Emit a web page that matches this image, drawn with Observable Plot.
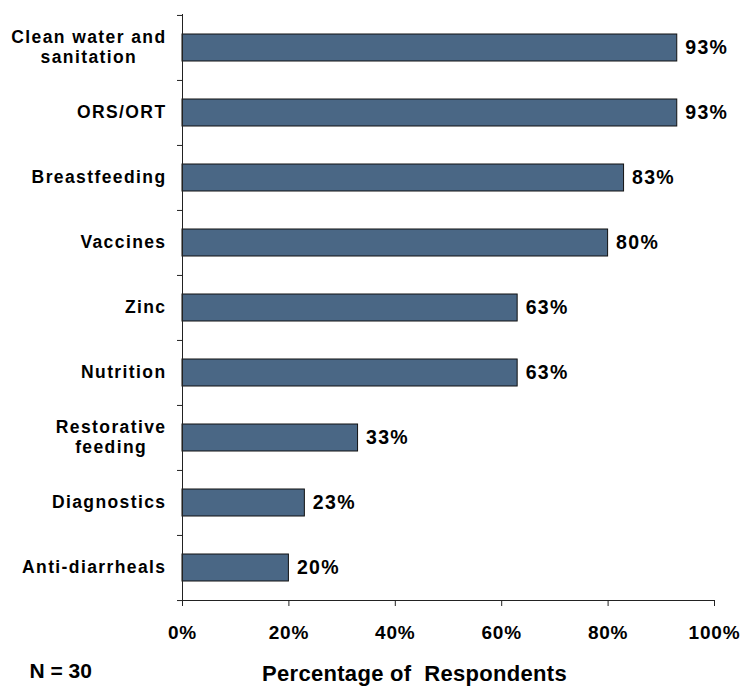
<!DOCTYPE html>
<html>
<head>
<meta charset="utf-8">
<script src="https://cdn.jsdelivr.net/npm/d3@7"></script>
<script src="https://cdn.jsdelivr.net/npm/@observablehq/plot@0.6"></script>
<style>
  body { margin: 0; background: #fff; }
  #chart svg text { font-family: "Liberation Sans", Arial, sans-serif; font-weight: bold; fill: #000; }
  #chart g[aria-label="y-axis tick label"] text { letter-spacing: 1.4px; }
  #chart g[aria-label="x-axis tick label"] text { letter-spacing: 0.8px; }
  #chart g.value-labels text { letter-spacing: 1.3px; }
  #chart g.x-title text { letter-spacing: 0.3px; }
</style>
</head>
<body>
<div id="chart"></div>
<script>
// Interventions named by respondents, top to bottom
const categories = [
  "Clean water and sanitation",
  "ORS/ORT",
  "Breastfeeding",
  "Vaccines",
  "Zinc",
  "Nutrition",
  "Restorative feeding",
  "Diagnostics",
  "Anti-diarrheals"
];
// Share of respondents (%)
const values = [93, 93, 83, 80, 63, 63, 33, 23, 20];
const xTicks = [0, 20, 40, 60, 80, 100];
// Two-line versions of the long category names
const wrapped = {
  "Clean water and sanitation": "Clean water and\nsanitation",
  "Restorative feeding": "Restorative\nfeeding"
};
const sampleNote = "N = 30";
const xTitle = "Percentage of\u00a0 Respondents";

const data = categories.map((category, i) => ({category, value: values[i]}));

const W = 745, H = 686;
const mt = 14, mb = 86, ml = 182, mr = 31;
const step = (H - mt - mb) / categories.length;

const chart = Plot.plot({
  width: W,
  height: H,
  marginTop: mt,
  marginBottom: mb,
  marginLeft: ml,
  marginRight: mr,
  style: {background: "#fff", overflow: "visible"},
  x: {domain: [0, 100]},
  y: {domain: categories, paddingInner: 0.585, paddingOuter: 0.2925},
  marks: [
    Plot.barX(data, {x: "value", y: "category", fill: "#4a6785", stroke: "#111", strokeWidth: 1}),
    Plot.text(data, {x: "value", y: "category", text: d => d.value + "%", textAnchor: "start", dx: 8, fontSize: 19.5, className: "value-labels"}),
    Plot.frame({anchor: "left", stroke: "#222"}),
    Plot.frame({anchor: "bottom", stroke: "#222"}),
    Plot.axisX({ticks: xTicks, tickFormat: d => d + "%", tickSize: 6, tickPadding: 19, fontSize: 19, label: null, stroke: "#222"}),
    // category names
    Plot.axisY({tickSize: 0, tickPadding: 16, tickFormat: c => wrapped[c] ?? c, fontSize: 17.5, lineHeight: 1.12, label: null, dy: -1}),
    // tick marks on the band boundaries
    Plot.axisY({tickSize: 5, text: null, label: null, dy: -step / 2, stroke: "#222"}),
    Plot.axisY([categories[categories.length - 1]], {tickSize: 5, text: null, label: null, dy: step / 2, stroke: "#222"}),
    Plot.text([xTitle], {frameAnchor: "bottom", dx: -34, dy: 80, fontSize: 22, className: "x-title"}),
    Plot.text([sampleNote], {frameAnchor: "bottom-left", dx: -153, dy: 77, fontSize: 21})
  ]
});

document.getElementById("chart").appendChild(chart);

// Center the lines of wrapped category names within their right-aligned block
chart.querySelectorAll('g[aria-label="y-axis tick label"] text').forEach(t => {
  const lines = t.querySelectorAll("tspan");
  if (lines.length < 2) return;
  const widths = Array.from(lines, s => s.getComputedTextLength());
  const widest = Math.max(...widths);
  lines.forEach((s, i) => s.setAttribute("x", -(widest - widths[i]) / 2));
});
</script>
</body>
</html>
